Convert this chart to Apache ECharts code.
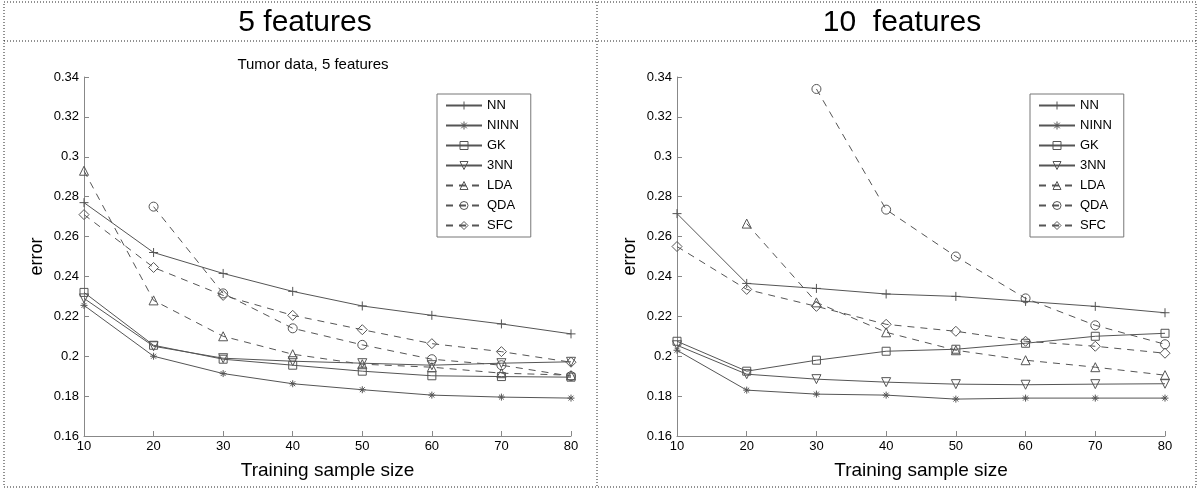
<!DOCTYPE html>
<html>
<head>
<meta charset="utf-8">
<script src="https://cdn.jsdelivr.net/npm/echarts@6/dist/echarts.min.js"></script>
<style>
  html, body { margin: 0; padding: 0; background: #fff; }
  #chart { width: 1200px; height: 497px; }
</style>
</head>
<body>
<div id="chart"></div>
<script>
// training sample sizes (x axis)
const sampleSizes = [10, 20, 30, 40, 50, 60, 70, 80]
const yTicks = [0.16, 0.18, 0.2, 0.22, 0.24, 0.26, 0.28, 0.3, 0.32, 0.34]
const methodNames = ['NN', 'NINN', 'GK', '3NN', 'LDA', 'QDA', 'SFC']

// 5 features
const nn5 = [0.277, 0.252, 0.2415, 0.2325, 0.2252, 0.2205, 0.2162, 0.2112]
const ninn5 = [0.2255, 0.200, 0.1913, 0.1862, 0.1832, 0.1805, 0.1795, 0.179]
const gk5 = [0.232, 0.2055, 0.1985, 0.1955, 0.1925, 0.1902, 0.1898, 0.1895]
const knn3_5 = [0.229, 0.205, 0.199, 0.1975, 0.1965, 0.1955, 0.1965, 0.1972]
const lda5 = [0.293, 0.228, 0.210, 0.201, 0.196, 0.1945, 0.1915, 0.1905]
const qda5 = [null, 0.275, 0.2315, 0.214, 0.2057, 0.1985, 0.1955, 0.190]
const sfc5 = [0.271, 0.2445, 0.2305, 0.2205, 0.2133, 0.2063, 0.2023, 0.197]

// 10 features
const nn10 = [0.2715, 0.2365, 0.234, 0.2312, 0.230, 0.2275, 0.225, 0.2218]
const ninn10 = [0.203, 0.183, 0.181, 0.1805, 0.1785, 0.179, 0.179, 0.179]
const gk10 = [0.2075, 0.1925, 0.198, 0.2025, 0.2035, 0.2065, 0.210, 0.2115]
const knn3_10 = [0.2055, 0.191, 0.1885, 0.187, 0.186, 0.1857, 0.186, 0.1862]
const lda10 = [null, 0.2665, 0.227, 0.212, 0.203, 0.198, 0.1945, 0.1905]
const qda10 = [null, null, 0.334, 0.2735, 0.250, 0.229, 0.2155, 0.206]
const sfc10 = [0.255, 0.2335, 0.225, 0.216, 0.2125, 0.2075, 0.205, 0.2015]

const lineColor = '#555'
const font = 'Liberation Sans, Arial, sans-serif'

// marker + line style per method
const styles = {
  NN: { symbol: 'path://M0,5H10M5,0V10', size: 9, dashed: false },
  NINN: { symbol: 'path://M0,5H10M5,0V10M1.5,1.5L8.5,8.5M8.5,1.5L1.5,8.5', size: 7, dashed: false },
  GK: { symbol: 'rect', size: 8, dashed: false },
  '3NN': { symbol: 'path://M0,0L10,0L5,9Z', size: 9, dashed: false },
  LDA: { symbol: 'triangle', size: 9, dashed: true },
  QDA: { symbol: 'circle', size: 9, dashed: true },
  SFC: { symbol: 'diamond', size: 10, dashed: true }
}

const hollow = { color: 'rgba(0,0,0,0)', borderColor: lineColor, borderWidth: 1 }

function makeSeries (name, values, idx) {
  const st = styles[name]
  return {
    name: name,
    type: 'line',
    xAxisIndex: idx,
    yAxisIndex: idx,
    symbol: st.symbol,
    symbolSize: st.size,
    showAllSymbol: true,
    connectNulls: false,
    animation: false,
    lineStyle: { color: lineColor, width: 1, type: st.dashed ? [7, 6] : 'solid' },
    itemStyle: hollow,
    data: sampleSizes.map((x, i) => [x, values[i]])
  }
}

const set5 = [nn5, ninn5, gk5, knn3_5, lda5, qda5, sfc5]
const set10 = [nn10, ninn10, gk10, knn3_10, lda10, qda10, sfc10]

function makeAxes (idx) {
  return {
    x: {
      type: 'value', gridIndex: idx, min: 10, max: 80, interval: 10,
      name: 'Training sample size', nameLocation: 'middle', nameGap: 25,
      nameTextStyle: { color: '#000', fontSize: 19, fontFamily: font },
      axisLine: { lineStyle: { color: '#888' } },
      axisTick: { inside: true, length: 5, lineStyle: { color: '#888' } },
      axisLabel: { color: '#000', fontSize: 13, fontFamily: font, margin: 4 },
      splitLine: { show: false }
    },
    y: {
      type: 'value', gridIndex: idx, min: yTicks[0], max: yTicks[yTicks.length - 1], interval: 0.02,
      name: 'error', nameLocation: 'middle', nameGap: 38, nameRotate: 90,
      nameTextStyle: { color: '#000', fontSize: 18, fontFamily: font },
      axisLine: { show: true, lineStyle: { color: '#888' } },
      axisTick: { show: true, inside: true, length: 5, lineStyle: { color: '#888' } },
      axisLabel: { color: '#000', fontSize: 13, fontFamily: font, margin: 5, formatter: v => String(+v.toFixed(2)) },
      splitLine: { show: false }
    }
  }
}

const ax0 = makeAxes(0)
const ax1 = makeAxes(1)

function makeLegend (left) {
  return {
    data: methodNames,
    orient: 'vertical',
    left: left,
    top: 94,
    itemWidth: 36,
    itemHeight: 10,
    itemGap: 7,
    padding: [5, 12, 5, 8],
    borderColor: '#777',
    borderWidth: 1,
    backgroundColor: '#fff',
    selectedMode: false,
    itemStyle: hollow,
    textStyle: { color: '#000', fontSize: 13, fontFamily: font }
  }
}

const dotted = { stroke: '#222', lineWidth: 1, lineDash: [1, 2] }

const option = {
  backgroundColor: '#fff',
  animation: false,
  title: [
    { text: '5 features', left: 300, top: 3, textAlign: 'center', textStyle: { fontSize: 30, fontWeight: 'normal', color: '#000', fontFamily: font } },
    { text: '10  features', left: 897, top: 3, textAlign: 'center', textStyle: { fontSize: 30, fontWeight: 'normal', color: '#000', fontFamily: font } },
    { text: 'Tumor data, 5 features', left: 308, top: 52, textAlign: 'center', textStyle: { fontSize: 15, fontWeight: 'normal', color: '#000', fontFamily: font } }
  ],
  legend: [makeLegend(437), makeLegend(1030)],
  grid: [
    { left: 84, width: 487, top: 77, height: 359 },
    { left: 677, width: 488, top: 77, height: 359 }
  ],
  xAxis: [ax0.x, ax1.x],
  yAxis: [ax0.y, ax1.y],
  series: methodNames.map((n, i) => makeSeries(n, set5[i], 0))
    .concat(methodNames.map((n, i) => makeSeries(n, set10[i], 1))),
  graphic: [
    { type: 'rect', shape: { x: 4, y: 2, width: 1192, height: 485 }, style: Object.assign({ fill: 'none' }, dotted), silent: true },
    { type: 'line', shape: { x1: 4, y1: 41, x2: 1196, y2: 41 }, style: dotted, silent: true },
    { type: 'line', shape: { x1: 597, y1: 2, x2: 597, y2: 487 }, style: dotted, silent: true }
  ]
}

const chart = echarts.init(document.getElementById('chart'))
chart.setOption(option)
window.addEventListener('resize', () => chart.resize())
</script>
</body>
</html>
